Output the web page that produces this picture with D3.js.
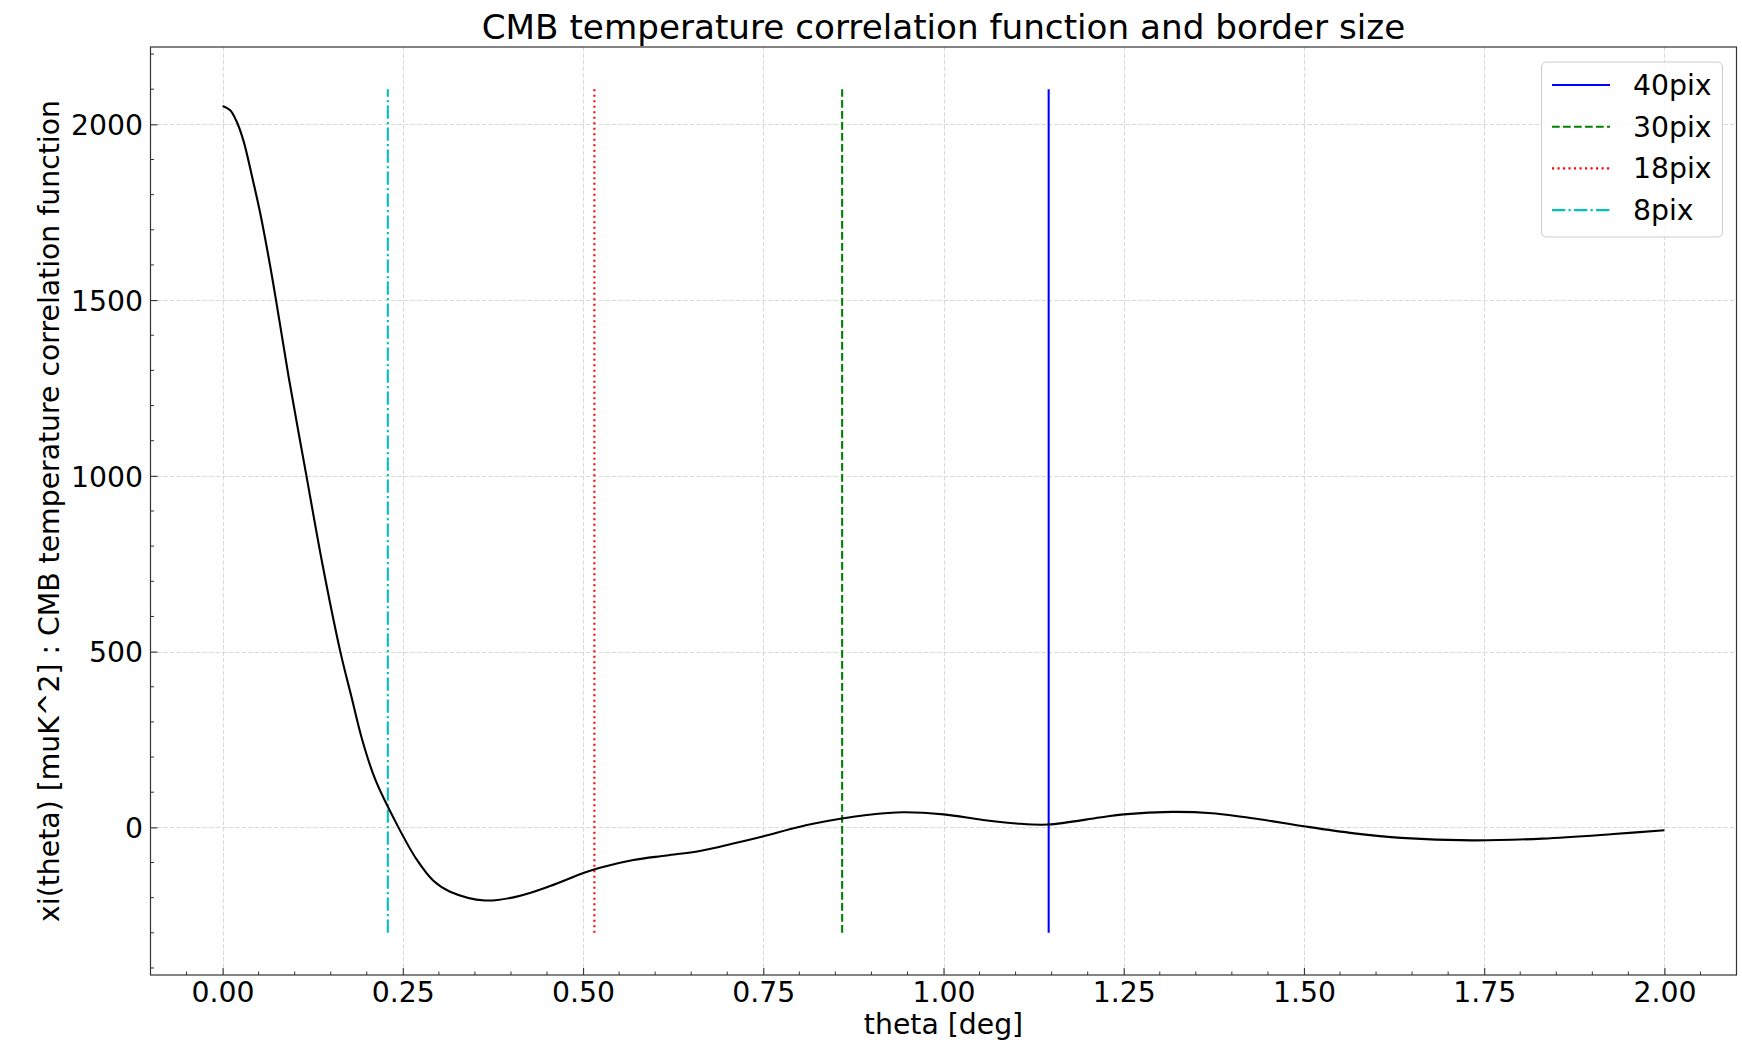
<!DOCTYPE html>
<html>
<head>
<meta charset="utf-8">
<script src="https://cdn.jsdelivr.net/npm/d3@7"></script>
<style>
  html, body { margin: 0; padding: 0; background: #fff; }
  svg { display: block; font-family: "DejaVu Sans", sans-serif; }
</style>
</head>
<body>
<svg id="chart" width="1742" height="1044"></svg>
<script>
// ---- data ----
const theta = [0.000, 0.0105, 0.019, 0.029, 0.0406, 0.052, 0.066, 0.0753, 0.0914, 0.1163,
  0.1384, 0.1633, 0.1783, 0.1938, 0.2116, 0.2439, 0.2694, 0.2924, 0.3156, 0.364,
  0.408, 0.4542, 0.5004, 0.5235, 0.5697, 0.616, 0.662, 0.7083, 0.7505, 0.8008,
  0.859, 0.8932, 0.944, 1.000, 1.055, 1.1012, 1.145, 1.2167, 1.25, 1.317,
  1.3728, 1.4382, 1.5, 1.5697, 1.6347, 1.733, 1.831, 1.9294, 2.0];
const xi = [2052, 2040, 2010, 1953, 1854, 1749, 1597, 1485, 1284, 1000,
  750, 500, 375, 248, 137, 0, -92, -152, -183, -208,
  -197, -167, -130, -115, -93, -80, -67, -46, -25, 2,
  25, 35, 43, 37, 21, 11, 8, 28, 37, 44,
  40, 23, 3, -17, -30, -37, -32, -19, -8];

const borderLabels = ["40pix", "30pix", "18pix", "8pix"];
const borderTheta = [1.1459, 0.8594, 0.5157, 0.2292];
const borderColors = ["#0000ff", "#008000", "#ff0000", "#00bfbf"];
const borderDash = ["none", "7.7,3.3", "2.1,3.4", "13.3,3.3,2.1,3.3"];
const vlineRange = [-300, 2100];

const xTicks = [0, 0.25, 0.5, 0.75, 1.0, 1.25, 1.5, 1.75, 2.0];
const yTicks = [0, 500, 1000, 1500, 2000];
const xDomain = [-0.1, 2.1];
const yDomain = [-420, 2220];

const titleText = "CMB temperature correlation function and border size";
const xLabel = "theta [deg]";
const yLabel = "xi(theta) [muK^2] : CMB temperature correlation function";

// ---- layout ----
const L = 150.5, R = 1736.5, T = 47, B = 975;
const FS = 28.3;

const svg = d3.select("#chart");
const x = d3.scaleLinear().domain(xDomain).range([L, R]);
const y = d3.scaleLinear().domain(yDomain).range([B, T]);

// grid
const grid = svg.append("g").attr("stroke", "#d9d9d9").attr("stroke-width", 1)
  .attr("stroke-dasharray", "4.5,2");
grid.selectAll(".gx").data(xTicks).join("line")
  .attr("x1", d => Math.round(x(d)) + 0.5).attr("x2", d => Math.round(x(d)) + 0.5)
  .attr("y1", T).attr("y2", B);
grid.selectAll(".gy").data(yTicks).join("line")
  .attr("y1", d => Math.round(y(d)) + 0.5).attr("y2", d => Math.round(y(d)) + 0.5)
  .attr("x1", L).attr("x2", R);

// vertical border lines
const vg = svg.append("g");
borderTheta.forEach((t, i) => {
  vg.append("line")
    .attr("x1", x(t)).attr("x2", x(t))
    .attr("y1", y(vlineRange[0])).attr("y2", y(vlineRange[1]))
    .attr("stroke", borderColors[i]).attr("stroke-width", 2.08)
    .attr("stroke-dasharray", borderDash[i]);
});

// curve
const pts = theta.map((t, i) => [t, xi[i]]);
svg.append("path").datum(pts)
  .attr("fill", "none").attr("stroke", "#000").attr("stroke-width", 2.1)
  .attr("stroke-linejoin", "round")
  .attr("d", d3.line().x(d => x(d[0])).y(d => y(d[1])).curve(d3.curveCatmullRom.alpha(0.5)));

// axes (ticks inward)
const xAxis = d3.axisBottom(x).tickValues(xTicks).tickFormat(d3.format(".2f"))
  .tickSizeInner(-7).tickSizeOuter(0).tickPadding(0);
const gx = svg.append("g").attr("transform", `translate(0,${B})`).call(xAxis);
gx.select(".domain").remove();
gx.selectAll("line").attr("stroke", "#333").attr("stroke-width", 1.1);
gx.selectAll("text").attr("font-size", FS).attr("fill", "#000")
  .attr("y", 27).attr("dy", 0).attr("font-family", "DejaVu Sans");

const xMinor = d3.range(-0.05, 2.1, 0.05).filter(v => xTicks.every(t => Math.abs(t - v) > 1e-6));
svg.append("g").selectAll("line").data(xMinor).join("line")
  .attr("x1", d => x(d)).attr("x2", d => x(d)).attr("y1", B).attr("y2", B - 3.5)
  .attr("stroke", "#333").attr("stroke-width", 1);

const yAxis = d3.axisLeft(y).tickValues(yTicks).tickFormat(d3.format("d"))
  .tickSizeInner(-7).tickSizeOuter(0).tickPadding(0);
const gy = svg.append("g").attr("transform", `translate(${L},0)`).call(yAxis);
gy.select(".domain").remove();
gy.selectAll("line").attr("stroke", "#333").attr("stroke-width", 1.1);
gy.selectAll("text").attr("font-size", FS).attr("fill", "#000")
  .attr("x", -7.5).attr("dy", "0.36em").attr("font-family", "DejaVu Sans");

const yMinor = d3.range(-400, 2201, 100).filter(v => yTicks.indexOf(v) < 0);
svg.append("g").selectAll("line").data(yMinor).join("line")
  .attr("y1", d => y(d)).attr("y2", d => y(d)).attr("x1", L).attr("x2", L + 3.5)
  .attr("stroke", "#333").attr("stroke-width", 1);

// frame
svg.append("rect").attr("x", L).attr("y", T).attr("width", R - L).attr("height", B - T)
  .attr("fill", "none").attr("stroke", "#333").attr("stroke-width", 1.2);

// labels
svg.append("text").attr("x", (L + R) / 2).attr("y", 38.5).attr("text-anchor", "middle")
  .attr("font-size", 34.2).text(titleText);
svg.append("text").attr("x", (L + R) / 2).attr("y", 1034).attr("text-anchor", "middle")
  .attr("font-size", FS).text(xLabel);
svg.append("text").attr("transform", `translate(59,${(T + B) / 2}) rotate(-90)`)
  .attr("text-anchor", "middle").attr("font-size", FS).text(yLabel);

// legend
const lg = svg.append("g");
lg.append("rect").attr("x", 1541.5).attr("y", 62).attr("width", 181).attr("height", 175)
  .attr("rx", 5).attr("fill", "#fff").attr("fill-opacity", 0.8)
  .attr("stroke", "#cccccc").attr("stroke-width", 1);
borderLabels.forEach((lab, i) => {
  const yy = 85 + i * 41.7;
  lg.append("line").attr("x1", 1552).attr("x2", 1610).attr("y1", yy).attr("y2", yy)
    .attr("stroke", borderColors[i]).attr("stroke-width", 2.08)
    .attr("stroke-dasharray", borderDash[i]);
  lg.append("text").attr("x", 1633).attr("y", yy + 10).attr("font-size", FS).text(lab);
});
</script>
</body>
</html>
